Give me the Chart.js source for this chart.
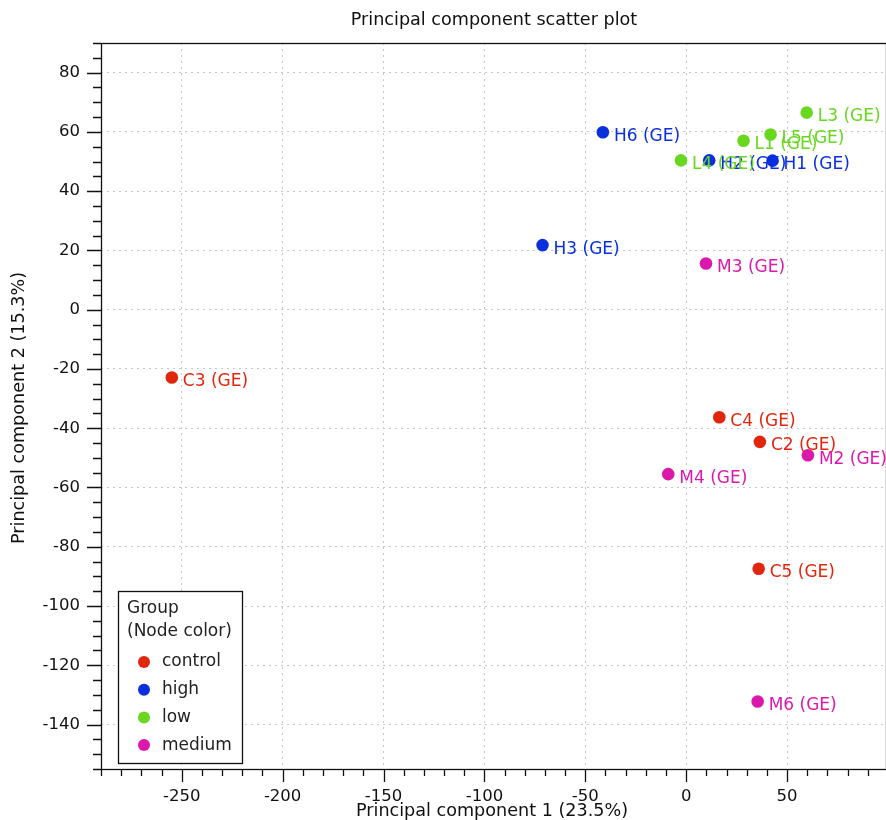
<!DOCTYPE html>
<html>
<head>
<meta charset="utf-8">
<script src="https://cdn.jsdelivr.net/npm/chart.js@4.4.0/dist/chart.umd.min.js"></script>
<style>
  body { margin: 0; background: #fff; overflow: hidden; }
</style>
</head>
<body>
<canvas id="pcaChart" width="886" height="820"></canvas>
<script>
// groups and colours
const groups = ["control", "high", "low", "medium"];
const groupColors = ["#e2260e", "#0b2fdc", "#68d81f", "#dc18ac"];

// samples: name, group index, PC1, PC2
const sampleNames = ["C2", "C3", "C4", "C5", "H1", "H2", "H3", "H6", "L1", "L3", "L4", "L5", "M2", "M3", "M4", "M6"];
const sampleGroup = [0, 0, 0, 0, 1, 1, 1, 1, 2, 2, 2, 2, 3, 3, 3, 3];
const pc1 = [36.5, -254.9, 16.4, 35.9, 42.8, 11.4, -71.2, -41.3, 28.4, 59.7, -2.6, 41.8, 60.3, 9.8, -8.9, 35.4];
const pc2 = [-44.6, -22.9, -36.3, -87.4, 50.3, 50.4, 21.8, 59.9, 57.0, 66.5, 50.4, 59.1, -49.1, 15.6, -55.5, -132.2];

const xTicks = [-250, -200, -150, -100, -50, 0, 50];
const yTicks = [-140, -120, -100, -80, -60, -40, -20, 0, 20, 40, 60, 80];

const FONT = "DejaVu Sans, sans-serif";

let datasets = groups.map((g, gi) => {
  let pts = [];
  for (let i = 0; i < sampleNames.length; i++) {
    if (sampleGroup[i] === gi) pts.push({x: pc1[i], y: pc2[i], name: sampleNames[i] + " (GE)"});
  }
  return {
    label: g,
    data: pts,
    backgroundColor: groupColors[gi],
    borderColor: groupColors[gi],
    pointRadius: 6.3,
    pointHoverRadius: 6.3,
    borderWidth: 0
  };
});

const decor = {
  id: "decor",
  afterDatasetsDraw(chart) {
    const ctx = chart.ctx;
    const a = chart.chartArea;
    const xs = chart.scales.x, ys = chart.scales.y;
    ctx.save();

    // point labels
    ctx.font = "17px " + FONT;
    ctx.textAlign = "left";
    ctx.textBaseline = "middle";
    chart.data.datasets.forEach((ds, di) => {
      ctx.fillStyle = ds.backgroundColor;
      ds.data.forEach(p => {
        ctx.fillText(p.name, xs.getPixelForValue(p.x) + 11, ys.getPixelForValue(p.y) + 4);
      });
    });

    // frame
    ctx.strokeStyle = "#111";
    ctx.lineWidth = 1.3;
    ctx.strokeRect(a.left + 0.5, a.top + 0.5, a.right - a.left, a.bottom - a.top);

    // tick marks (major + minor)
    ctx.lineWidth = 1.3;
    ctx.beginPath();
    for (let v = -290; v <= 99; v += 10) {
      let px = Math.round(xs.getPixelForValue(v)) + 0.5;
      let len = (v % 50 === 0) ? 13 : 7;
      ctx.moveTo(px, a.bottom);
      ctx.lineTo(px, a.bottom + len);
    }
    for (let v = -155; v <= 90; v += 5) {
      let py = Math.round(ys.getPixelForValue(v)) + 0.5;
      let len = (v % 20 === 0) ? 14 : 8;
      ctx.moveTo(a.left, py);
      ctx.lineTo(a.left - len, py);
    }
    ctx.stroke();

    // titles
    ctx.fillStyle = "#111";
    ctx.font = "17.6px " + FONT;
    ctx.textAlign = "center";
    ctx.textBaseline = "middle";
    ctx.fillText("Principal component scatter plot", 494, 20);
    ctx.fillText("Principal component 1 (23.5%)", 492, 811);
    ctx.save();
    ctx.translate(19, 408);
    ctx.rotate(-Math.PI / 2);
    ctx.fillText("Principal component 2 (15.3%)", 0, 0);
    ctx.restore();

    // legend box
    ctx.font = "17px " + FONT;
    ctx.fillStyle = "#fff";
    ctx.fillRect(118, 591, 124, 173);
    ctx.strokeStyle = "#111";
    ctx.lineWidth = 1.3;
    ctx.strokeRect(118.5, 591.5, 124, 172);
    ctx.fillStyle = "#222";
    ctx.textAlign = "left";
    ctx.fillText("Group", 127, 609);
    ctx.fillText("(Node color)", 127, 632);
    groups.forEach((g, i) => {
      let y = 662 + i * 27.7;
      ctx.fillStyle = groupColors[i];
      ctx.beginPath();
      ctx.arc(144, y, 6, 0, Math.PI * 2);
      ctx.fill();
      ctx.fillStyle = "#222";
      ctx.fillText(g, 162, y);
    });
    ctx.restore();
  }
};

new Chart(document.getElementById("pcaChart").getContext("2d"), {
  type: "scatter",
  data: { datasets: datasets },
  options: {
    responsive: false,
    animation: false,
    layout: { autoPadding: false, padding: { top: 43, right: 0, left: 0, bottom: 0 } },
    plugins: {
      legend: { display: false },
      title: { display: false },
      tooltip: { enabled: false }
    },
    scales: {
      x: {
        type: "linear",
        min: -290,
        max: 99,
        afterBuildTicks: s => { s.ticks = xTicks.map(v => ({value: v})); },
        afterFit: s => { s.height = 51; },
        grid: { color: "#c8c8c8", lineWidth: 1, drawTicks: false },
        border: { display: false, dash: [2, 4] },
        ticks: { color: "#111", font: { family: FONT, size: 16.5 }, padding: 18, maxRotation: 0 }
      },
      y: {
        type: "linear",
        min: -155,
        max: 90,
        afterBuildTicks: s => { s.ticks = yTicks.map(v => ({value: v})); },
        afterFit: s => { s.width = 101; },
        grid: { color: "#c8c8c8", lineWidth: 1, drawTicks: false },
        border: { display: false, dash: [2, 4] },
        ticks: { color: "#111", font: { family: FONT, size: 16.5 }, padding: 21 }
      }
    }
  },
  plugins: [decor]
});
</script>
</body>
</html>
